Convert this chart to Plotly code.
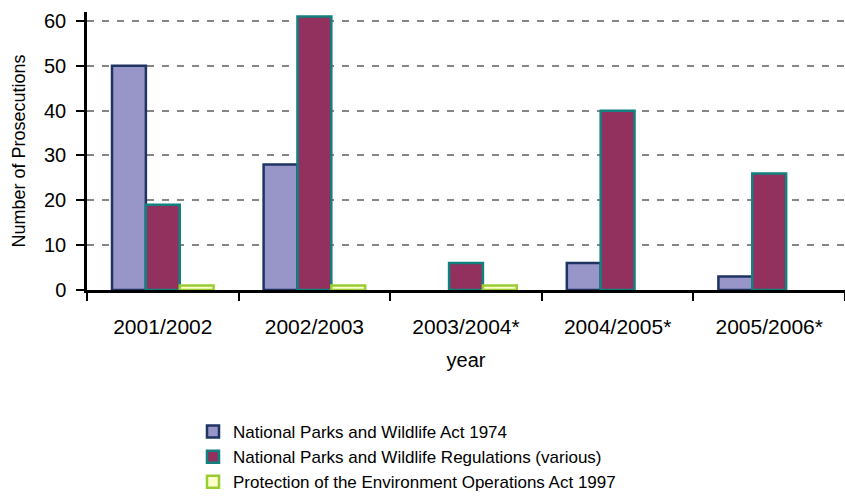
import plotly.graph_objects as go

years = ["2001/2002", "2002/2003", "2003/2004*", "2004/2005*", "2005/2006*"]
npw_act = [50, 28, 0, 6, 3]
npw_regs = [19, 61, 6, 40, 26]
poeo_act = [1, 1, 1, 0, 0]

series_names = [
    "National Parks and Wildlife Act 1974",
    "National Parks and Wildlife Regulations (various)",
    "Protection of the Environment Operations Act 1997",
]
fills = ["#9896C8", "#92305E", "#FFFFCC"]
outlines = ["#1F3462", "#12807E", "#99CC33"]

FONT = "Liberation Sans, Arial, sans-serif"

fig = go.Figure()
for name, vals, fc, lc in zip(series_names, [npw_act, npw_regs, poeo_act], fills, outlines):
    # zero counts get no bar (no outline stub on the axis)
    shown = [v if v != 0 else None for v in vals]
    fig.add_trace(go.Bar(
        x=years, y=shown, name=name,
        marker=dict(color=fc, line=dict(color=lc, width=2.5)),
    ))

fig.update_layout(
    width=845, height=497,
    margin=dict(l=87, r=0, t=12, b=207, autoexpand=False),
    paper_bgcolor="white", plot_bgcolor="white",
    barmode="group", bargap=0.33, bargroupgap=0,
    font=dict(family=FONT, color="black", size=18),
    showlegend=True,
    legend=dict(
        x=(193 - 87) / 758, xref="paper", xanchor="left",
        yref="container", y=1 - 414 / 497, yanchor="top",
        font=dict(size=17, family=FONT),
        bgcolor="rgba(0,0,0,0)",
        tracegroupgap=0,
    ),
)

fig.update_xaxes(
    showline=True, linecolor="black", linewidth=2.5,
    ticks="outside", tickson="boundaries", ticklen=8, tickwidth=2, tickcolor="black",
    tickfont=dict(size=21, family=FONT),
    ticklabelstandoff=16,
    showgrid=False, zeroline=False,
    title=dict(text="year", font=dict(size=20, family=FONT), standoff=17),
)
fig.update_yaxes(
    range=[0, 62],
    tickvals=[0, 10, 20, 30, 40, 50, 60],
    showline=True, linecolor="black", linewidth=2.5,
    ticks="outside", ticklen=8, tickwidth=2, tickcolor="black",
    tickfont=dict(size=20, family=FONT),
    ticklabelstandoff=6,
    showgrid=True, gridcolor="#868686", gridwidth=2, griddash="7px,8px",
    zeroline=False,
    title=dict(text="Number of Prosecutions", font=dict(size=18, family=FONT), standoff=14),
)

fig.write_html("out.html")
